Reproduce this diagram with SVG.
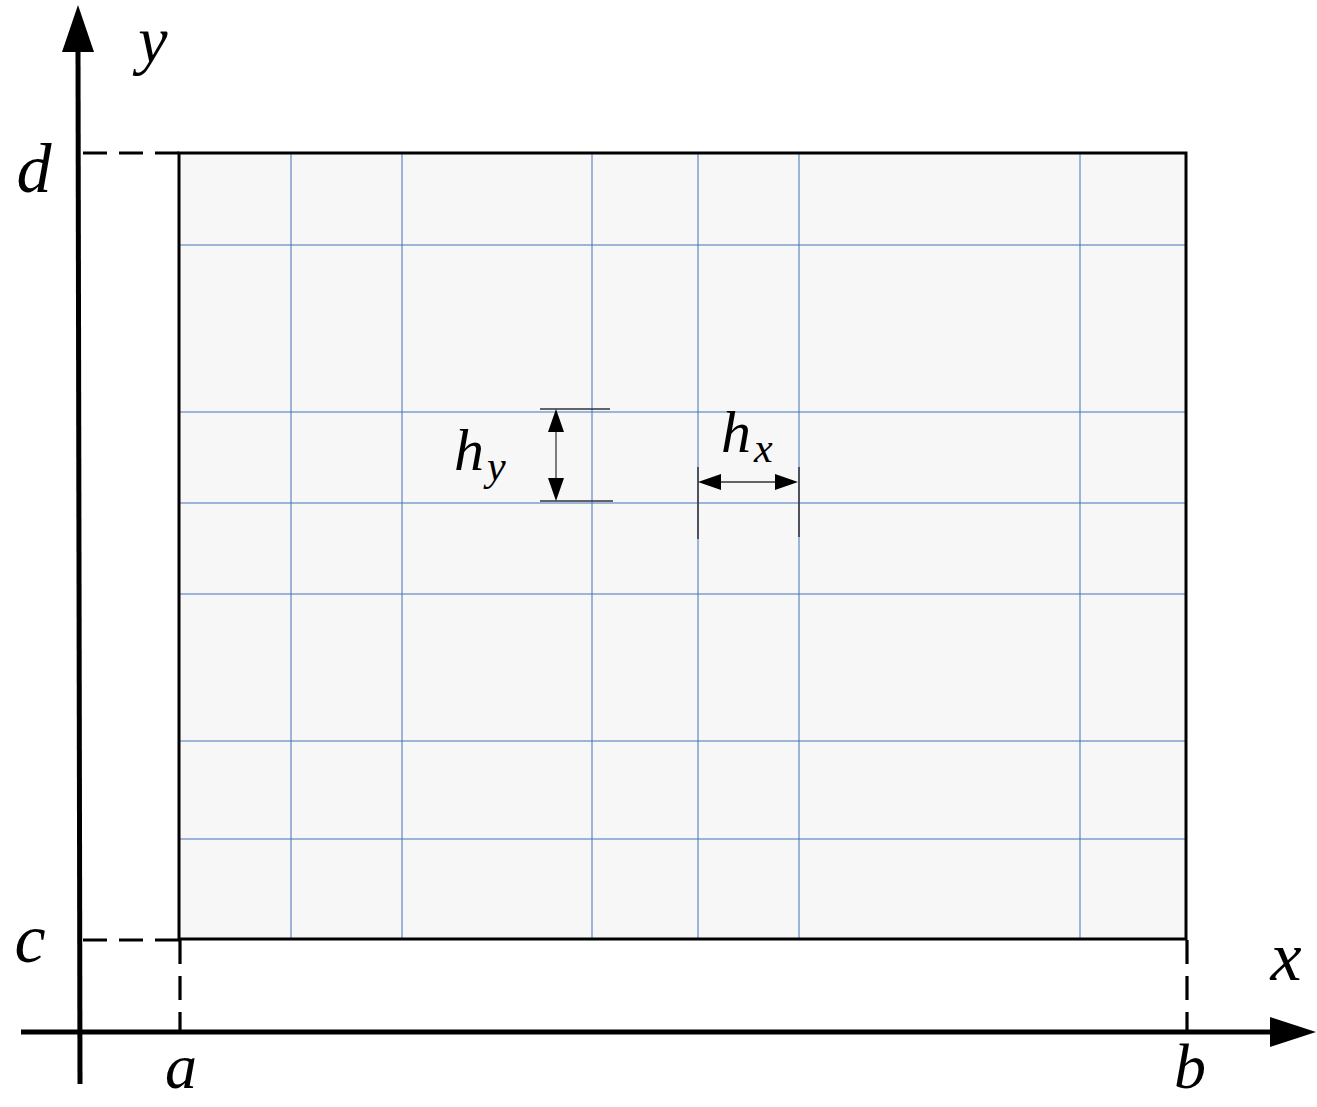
<svg xmlns="http://www.w3.org/2000/svg" width="1317" height="1107" viewBox="0 0 1317 1107">
<style>
.lbl{font-family:"Liberation Serif","DejaVu Serif",serif;font-style:italic;fill:#000}
.grid{stroke:#4272b8;stroke-width:1;fill:none}
.dash{stroke:#000;stroke-width:3.2;stroke-dasharray:24 12;fill:none}
.tick{stroke:#333;stroke-width:1.5;fill:none}
</style>
<rect width="1317" height="1107" fill="#fff"/>
<g id="domain">
<rect x="179" y="153" width="1007" height="786" fill="#f7f7f7"/>
<g class="grid">
<line x1="291" y1="153" x2="291" y2="939"/>
<line x1="402" y1="153" x2="402" y2="939"/>
<line x1="592" y1="153" x2="592" y2="939"/>
<line x1="698" y1="153" x2="698" y2="939"/>
<line x1="799" y1="153" x2="799" y2="939"/>
<line x1="1080" y1="153" x2="1080" y2="939"/>
<line x1="179" y1="245" x2="1186" y2="245"/>
<line x1="179" y1="412" x2="1186" y2="412"/>
<line x1="179" y1="503" x2="1186" y2="503"/>
<line x1="179" y1="594" x2="1186" y2="594"/>
<line x1="179" y1="741" x2="1186" y2="741"/>
<line x1="179" y1="839" x2="1186" y2="839"/>
</g>
<rect x="179" y="153" width="1007" height="786" fill="none" stroke="#000" stroke-width="3"/>
</g>
<g id="connectors">
<line class="dash" x1="83" y1="153" x2="179" y2="153"/>
<line class="dash" x1="83" y1="940" x2="179" y2="940"/>
<line class="dash" x1="180" y1="940" x2="180" y2="1032" stroke-dasharray="23 12"/>
<line class="dash" x1="1187" y1="940" x2="1187" y2="1032" stroke-dasharray="23 12"/>
</g>
<g id="axes">
<line x1="80" y1="1084" x2="78" y2="48" stroke="#000" stroke-width="5"/>
<polygon points="78,5 62,52 94,52" fill="#000"/>
<line x1="21" y1="1032" x2="1275" y2="1032" stroke="#000" stroke-width="5"/>
<polygon points="1316,1032 1270,1017 1270,1047" fill="#000"/>
</g>
<g id="hy">
<line class="tick" x1="540" y1="409" x2="610" y2="409"/>
<line class="tick" x1="540" y1="501" x2="613" y2="501"/>
<line x1="556" y1="420" x2="556" y2="490" stroke="#555" stroke-width="1.5"/>
<polygon points="556,409 548,432 564,432" fill="#000"/>
<polygon points="556,501 548,478 564,478" fill="#000"/>
<text class="lbl" x="454" y="470" font-size="60">h<tspan font-size="42" dx="3" dy="10">y</tspan></text>
</g>
<g id="hx">
<line class="tick" x1="698" y1="467" x2="698" y2="539"/>
<line class="tick" x1="799" y1="467" x2="799" y2="537"/>
<line x1="710" y1="482" x2="787" y2="482" stroke="#333" stroke-width="1.5"/>
<polygon points="698,482 721,474 721,490" fill="#000"/>
<polygon points="798,482 775,474 775,490" fill="#000"/>
<text class="lbl" x="721" y="452" font-size="60">h<tspan font-size="42" dx="3" dy="10">x</tspan></text>
</g>
<g id="labels">
<text class="lbl" x="153" y="62" font-size="66" text-anchor="middle">y</text>
<text class="lbl" x="34" y="192" font-size="70" text-anchor="middle">d</text>
<text class="lbl" x="30" y="962" font-size="70" text-anchor="middle">c</text>
<text class="lbl" x="181" y="1088" font-size="64" text-anchor="middle">a</text>
<text class="lbl" x="1190" y="1088" font-size="64" text-anchor="middle">b</text>
<text class="lbl" x="1286" y="980" font-size="70" text-anchor="middle">x</text>
</g>
</svg>
